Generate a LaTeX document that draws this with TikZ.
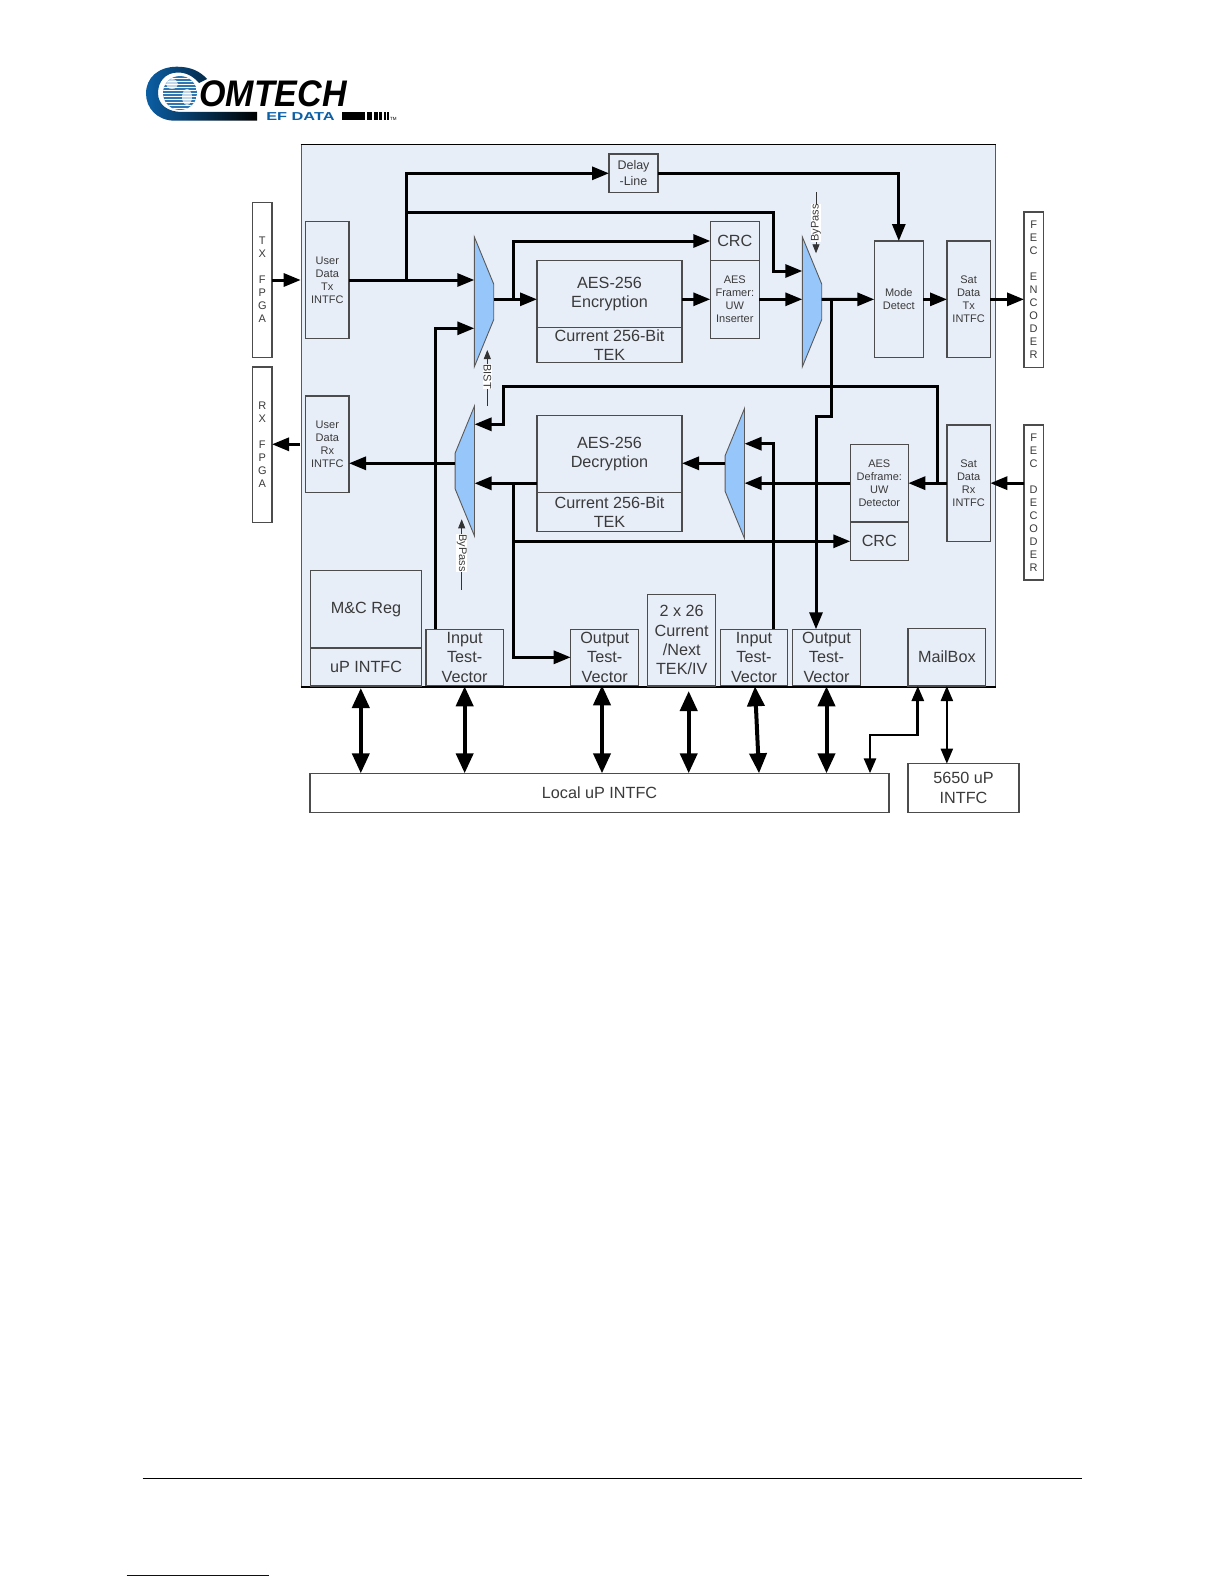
\documentclass[tikz,border=0pt]{standalone}
\usepackage{fontspec}
\setmainfont{Liberation Sans}
\usepackage{xcolor}
\usetikzlibrary{shapes.geometric,arrows.meta,positioning,calc}
\definecolor{panelblue}{HTML}{E8EEF8}
\definecolor{muxblue}{HTML}{96C6FA}
\definecolor{logoblue}{HTML}{0B5FA5}
\definecolor{inkgrey}{HTML}{3A3A3A}

\begin{document}
\begin{tikzpicture}[
    x=1pt, y=-1pt,
    panel/.style = {
        rectangle,
        draw=black!65,
        line width=1pt,
        fill=panelblue,
        anchor=north west,
        inner sep=0pt
    },
    block/.style = {
        rectangle,
        draw=black!70,
        line width=1.1pt,
        anchor=north west,
        inner sep=0pt,
        outer sep=0pt,
        align=center,
        text=inkgrey,
        font=\fontsize{16.2}{19.4}\selectfont
    },
    small_block/.style = {
        block,
        font=\fontsize{11}{13}\selectfont
    },
    white_block/.style = {
        small_block,
        fill=white
    },
    mux/.style = {
        trapezium,
        trapezium left angle=37,
        trapezium right angle=37,
        trapezium stretches=true,
        minimum width=130pt,
        minimum height=19.4pt,
        inner sep=1pt,
        outer sep=0pt,
        draw=black!65,
        line width=0.9pt,
        fill=muxblue
    },
    tag/.style = {
        fill=white,
        inner sep=0.5pt,
        text=inkgrey,
        font=\fontsize{11}{13}\selectfont
    },
    arrow/.style = {
        -{Triangle[length=17pt,width=13pt]},
        line width=3pt,
        draw=black
    },
    bus/.style = {
        {Triangle[length=20pt,width=17pt]}-{Triangle[length=20pt,width=17pt]},
        line width=4pt,
        draw=black
    },
    thin_bus/.style = {
        {Triangle[length=15pt,width=12pt]}-{Triangle[length=15pt,width=12pt]},
        line width=2.2pt,
        draw=black
    },
    thin_arrow/.style = {
        -{Triangle[length=9pt,width=7pt]},
        line width=0.8pt,
        draw=black!80
    }
]
    \useasboundingbox (0,0) rectangle (1224,1584);
    \fill[white] (0,0) rectangle (1224,1584);

    % Logo
    \shade[left color=logoblue, middle color=logoblue, right color=black]
        (257,120.7) -- (175,120.7) .. controls (157,120.7) and (146,108) .. (146,93.5)
        .. controls (146,78) and (158,66.7) .. (177,66.7)
        .. controls (190,66.7) and (200,71) .. (207,79)
        -- (199,83) .. controls (193,76) and (186,72.5) .. (178,72.5)
        .. controls (165,72.5) and (158,82) .. (158,93)
        .. controls (158,105) and (168,112) .. (182,112) -- (257,112) -- cycle;
    \begin{scope}
        \clip (180,93) circle (17);
        \fill[logoblue!85] (163,76) rectangle (197,110);
        \fill[white!75!logoblue] (172,84) ellipse (6 and 5);
        \fill[white!75!logoblue] (187,97) ellipse (5 and 8);
        \foreach \stripe in {78,81,...,108}
            \draw[white, line width=0.8pt] (163,\stripe) -- (197,\stripe);
    \end{scope}
    \node [anchor=west, inner sep=0pt, xscale=0.92, font=\fontsize{37}{37}\selectfont\bfseries\itshape] (logo_name) at (199,93.5) {OMTECH};
    \node [anchor=west, inner sep=0pt, xscale=1.42, text=logoblue, font=\fontsize{11.5}{11.5}\selectfont\bfseries] (logo_sub) at (266,116.8) {EF DATA};
    \fill (342,112) rectangle (365,120.5);
    \foreach \barx/\barw in {367/5,373.5/4,379/3,383.5/2.5,387/2}
        \fill (\barx,112) rectangle ++(\barw,8.5);
    \node [anchor=west, inner sep=0pt, font=\fontsize{4.5}{4.5}\selectfont] (logo_tm) at (390,119) {TM};

    % Panel
    \node [panel, minimum width=694.3pt, minimum height=541.7pt] (core) at (300.7,144.3) {};
    \draw [line width=1.1pt, black] (core.north west) -- (core.north east);
    \draw [line width=1.4pt, black] (core.south west) -- (core.south east);

    % Node Definitions
    \node [white_block, minimum width=19.3pt, minimum height=155.4pt] (tx_fpga) at (252.7,202.3) {T\\X\\[13pt]F\\P\\G\\A};
    \node [white_block, minimum width=19.3pt, minimum height=155.3pt] (rx_fpga) at (252.7,367) {R\\X\\[13pt]F\\P\\G\\A};
    \node [small_block, minimum width=43.3pt, minimum height=116.6pt] (user_tx) at (305.7,221.7) {User\\Data\\Tx\\INTFC};
    \node [small_block, minimum width=43.3pt, minimum height=96.7pt] (user_rx) at (305.7,396) {User\\Data\\Rx\\INTFC};
    \node [block, minimum width=49pt, minimum height=38.7pt, font=\fontsize{12.5}{16}\selectfont] (delay) at (609,154) {Delay\\-Line};

    \node [mux, rotate=-90] (mux_bist) at (484,301.85) {};
    \node [mux, rotate=90] (mux_rx) at (464.8,471) {};
    \node [mux, rotate=-90] (mux_tx) at (812,301.85) {};
    \node [mux, rotate=90] (mux_dec) at (734.8,473.5) {};

    \node [block, minimum width=145pt, minimum height=67.4pt] (enc) at (537,260.3) {AES-256\\Encryption};
    \node [block, minimum width=145pt, minimum height=34.6pt, below=0pt of enc.south west, anchor=north west] (enc_tek) {Current 256-Bit\\TEK};
    \node [block, minimum width=145pt, minimum height=77pt] (dec) at (537,415.3) {AES-256\\Decryption};
    \node [block, minimum width=145pt, minimum height=39.4pt, below=0pt of dec.south west, anchor=north west] (dec_tek) {Current 256-Bit\\TEK};

    \node [block, minimum width=49pt, minimum height=38.6pt] (crc_tx) at (710.3,221.7) {CRC};
    \node [small_block, minimum width=49pt, minimum height=78pt, below=0pt of crc_tx.south west, anchor=north west] (framer) {AES\\Framer:\\UW\\Inserter};
    \node [small_block, minimum width=49pt, minimum height=116.7pt] (mode) at (874.3,241) {Mode\\Detect};
    \node [small_block, minimum width=43.3pt, minimum height=116.7pt, right=23.7pt of mode.north east, anchor=north west] (sat_tx) {Sat\\Data\\Tx\\INTFC};
    \node [white_block, minimum width=19.3pt, minimum height=155.3pt] (fec_enc) at (1024,212) {F\\E\\C\\[13pt]E\\N\\C\\O\\D\\E\\R};
    \node [white_block, minimum width=19.3pt, minimum height=155pt] (fec_dec) at (1024,425) {F\\E\\C\\[13pt]D\\E\\C\\O\\D\\E\\R};
    \node [small_block, minimum width=43.3pt, minimum height=116.3pt] (sat_rx) at (947,425) {Sat\\Data\\Rx\\INTFC};
    \node [small_block, minimum width=58pt, minimum height=77.7pt] (deframe) at (850.3,444.3) {AES\\Deframe:\\UW\\Detector};
    \node [block, minimum width=58pt, minimum height=38.3pt, below=0pt of deframe.south west, anchor=north west] (crc_rx) {CRC};

    \node [block, minimum width=111.4pt, minimum height=77.7pt] (mc_reg) at (310.3,570.3) {M\&C Reg};
    \node [block, minimum width=111.4pt, minimum height=38pt, below=0pt of mc_reg.south west, anchor=north west] (up_intfc) {uP INTFC};
    \node [block, minimum width=77.3pt, minimum height=56pt] (in_vec_a) at (426,629.3) {Input\\Test-\\Vector};
    \node [block, minimum width=68pt, minimum height=56pt] (out_vec_a) at (570.7,629.3) {Output\\Test-\\Vector};
    \node [block, minimum width=68pt, minimum height=91.7pt] (key_store) at (647.7,594.3) {2 x 26\\Current\\/Next\\TEK/IV};
    \node [block, minimum width=67.4pt, minimum height=56pt] (in_vec_b) at (720.3,629.3) {Input\\Test-\\Vector};
    \node [block, minimum width=67.6pt, minimum height=56pt] (out_vec_b) at (792.7,629.3) {Output\\Test-\\Vector};
    \node [block, minimum width=77.7pt, minimum height=57.7pt] (mailbox) at (908,628.3) {MailBox};

    \node [block, fill=white, minimum width=579pt, minimum height=39pt] (local_up) at (310,773.3) {Local uP INTFC};
    \node [block, fill=white, minimum width=111pt, minimum height=48.6pt] (host_up) at (908,763.7) {5650 uP\\INTFC};

    % Bus levels and bends
    \coordinate (tx_tap) at (406.7,280);
    \coordinate (delay_level) at (609,173.3);
    \coordinate (skip_level) at (773.3,212);
    \coordinate (skip_in) at (773.3,271);
    \coordinate (bist_in) at (435.7,328.3);
    \coordinate (enc_out) at (513.3,299.3);
    \coordinate (crc_level) at (513.3,241);
    \coordinate (tx_out) at (831.7,299.3);
    \coordinate (tv_jog) at (831.7,416);
    \coordinate (tv_drop) at (816,416);
    \coordinate (rx_top) at (937.3,386.7);
    \coordinate (rx_left) at (503.3,386.7);
    \coordinate (rx_in) at (503.3,424.3);
    \coordinate (dec_out) at (513.3,483.3);
    \coordinate (crc_rx_level) at (513.3,541.3);
    \coordinate (tv_level) at (513.3,657.3);
    \coordinate (in_b_top) at (773.3,443.7);
    \coordinate (dec_in) at (700,463.3);
    \coordinate (fpga_rx) at (300,444.3);
    \coordinate (mail_bend) at (917.8,735);
    \coordinate (local_bend) at (870,735);

    % Arrows connecting nodes
    \draw [arrow] (tx_fpga.east |- user_tx.west) -- (core.west |- user_tx.west);
    \draw [arrow] (user_tx.east) -- (user_tx.east -| mux_bist.south);
    \draw [arrow] (tx_tap) -- (tx_tap |- delay_level) -- (delay.west |- delay_level);
    \draw [arrow] (tx_tap |- skip_level) -- (skip_level) -- (skip_in) -- (skip_in -| mux_tx.south);
    \draw [arrow] (in_vec_a.north -| bist_in) -- (bist_in) -- (bist_in -| mux_bist.south);
    \draw [arrow] (enc_out -| mux_bist.north) -- (enc_out -| enc.west);
    \draw [arrow] (enc_out) -- (crc_level) -- (crc_level -| crc_tx.west);
    \draw [arrow] (enc.east |- framer.west) -- (framer.west);
    \draw [arrow] (framer.east) -- (framer.east -| mux_tx.south);
    \draw [arrow] (tx_out -| mux_tx.north) -- (mode.west);
    \draw [arrow] (mode.east) -- (sat_tx.west);
    \draw [arrow] (sat_tx.east) -- (sat_tx.east -| fec_enc.west);
    \draw [arrow] (delay.east |- delay_level) -| (mode.north);
    \draw [arrow] (tx_out) -- (tv_jog) -- (tv_drop) -- (tv_drop |- out_vec_b.north);

    \draw [arrow] (fec_dec.west |- sat_rx.east) -- (sat_rx.east);
    \draw [arrow] (sat_rx.west) -- (deframe.east);
    \draw [arrow] (rx_top |- sat_rx.west) -- (rx_top) -- (rx_left) -- (rx_in) -- (rx_in -| mux_rx.south);
    \draw [arrow] (deframe.west) -- (deframe.west -| mux_dec.south);
    \draw [arrow] (dec_in -| mux_dec.north) -- (dec_in -| dec.east);
    \draw [arrow] (dec_out -| dec.west) -- (dec_out -| mux_rx.south);
    \draw [arrow] (dec_out) -- (tv_level) -- (tv_level -| out_vec_a.west);
    \draw [arrow] (crc_rx_level) -- (crc_rx_level -| crc_rx.west);
    \draw [arrow] (in_vec_b.north -| in_b_top) -- (in_b_top) -- (in_b_top -| mux_dec.south);
    \draw [arrow] (dec_in -| mux_rx.north) -- (dec_in -| user_rx.east);
    \draw [arrow] (fpga_rx) -- (fpga_rx -| rx_fpga.east);

    \draw [bus] ([xshift=-5.2pt,yshift=-2pt]up_intfc.south) -- ([xshift=-5.2pt]up_intfc.south |- local_up.north);
    \draw [bus] ([yshift=-1pt]in_vec_a.south) -- (in_vec_a.south |- local_up.north);
    \draw [bus] ([xshift=-2.7pt]out_vec_a.south) -- ([xshift=-2.7pt]out_vec_a.south |- local_up.north);
    \draw [bus] ([xshift=7pt,yshift=-5pt]key_store.south) -- ([xshift=7pt]key_store.south |- local_up.north);
    \draw [bus] ([xshift=1pt,yshift=-1pt]in_vec_b.south) -- ([xshift=5pt]in_vec_b.south |- local_up.north);
    \draw [bus] ([yshift=-1pt]out_vec_b.south) -- (out_vec_b.south |- local_up.north);
    \draw [thin_bus, line width=2.8pt] (mail_bend |- mailbox.south) -- (mail_bend) -- (local_bend) -- (local_bend |- local_up.north);
    \draw [thin_bus] (mailbox.south) -- (mailbox.south |- host_up.north);

    % Select lines and their labels
    \coordinate (bist_end) at (487.3,406);
    \coordinate (bist_tip) at (487.3,350);
    \coordinate (by_tx_end) at (816,192.3);
    \coordinate (by_tx_tip) at (816,253.3);
    \coordinate (by_rx_end) at (461.7,590);
    \coordinate (by_rx_tip) at (461.7,519.3);
    \draw [thin_arrow] (bist_end) -- (bist_tip);
    \draw [thin_arrow] (by_tx_end) -- (by_tx_tip);
    \draw [thin_arrow] (by_rx_end) -- (by_rx_tip);
    \node [tag, rotate=-90] (bist_tag) at (487.3,376.7) {BIST};
    \node [tag, rotate=90] (by_tx_tag) at (816,223) {ByPass};
    \node [tag, rotate=-90] (by_rx_tag) at (461.7,553) {ByPass};

    % Page rules
    \node [inner sep=0pt] (rule_top) at (142,1478) {};
    \node [inner sep=0pt] (rule_low) at (126,1575) {};
    \draw [line width=1pt, black] (rule_top) -- ++(940,0);
    \draw [line width=1pt, blue!50!black] (rule_low) -- ++(143,0);
\end{tikzpicture}
\end{document}
